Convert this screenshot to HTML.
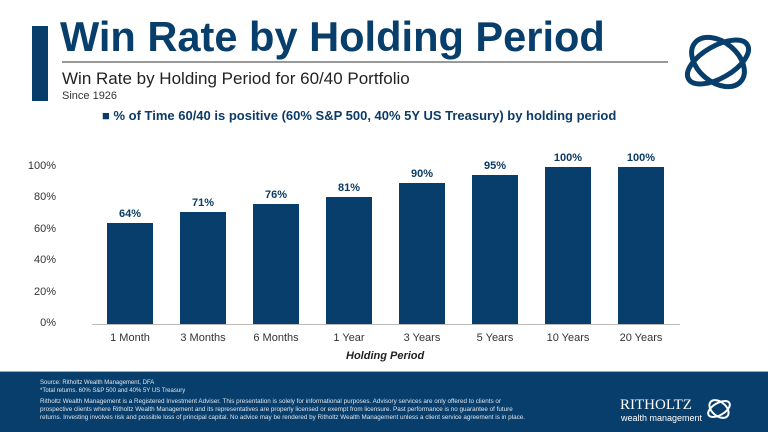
<!DOCTYPE html>
<html><head><style>
body{margin:0;width:768px;height:432px;background:#fff;font-family:"Liberation Sans",sans-serif;position:relative;overflow:hidden}
.a{position:absolute;white-space:nowrap}
.bar{position:absolute;background:#073e6b;width:46px}
.lab{position:absolute;width:60px;text-align:center;font-size:11px;font-weight:bold;color:#0b3b66}
.xl{position:absolute;width:80px;text-align:center;font-size:11px;color:#333;top:332px}
.yl{position:absolute;right:712px;font-size:11px;color:#333}
.grid{position:absolute;left:92px;width:588px;height:1px;background:#d9d9d9}
</style></head><body>
<div class="a" style="left:32px;top:26px;width:16px;height:75px;background:#073e6b"></div>
<div class="a" style="left:60px;top:13px;font-size:42px;font-weight:bold;color:#073e6b;transform:scaleX(0.99);transform-origin:left">Win Rate by Holding Period</div>
<div class="a" style="left:62px;top:61px;width:606px;height:2px;background:#999"></div>
<div class="a" style="left:62px;top:69px;font-size:17px;color:#222">Win Rate by Holding Period for 60/40 Portfolio</div>
<div class="a" style="left:62px;top:90px;font-size:11px;color:#333">Since 1926</div>
<div class="a" style="left:102px;top:108px;font-size:13px;font-weight:bold;color:#0b3b66">■ % of Time 60/40 is positive (60% S&amp;P 500, 40% 5Y US Treasury) by holding period</div>
<svg class="a" style="left:676px;top:28px" width="84" height="68" viewBox="0 0 84 68"><g fill="none" stroke="#073e6b" stroke-width="5"><ellipse cx="42" cy="34" rx="34" ry="16" transform="rotate(-30 42 34)"/><ellipse cx="42" cy="34" rx="30" ry="20" transform="rotate(40 42 34)"/></g></svg>

<div class="grid" style="top:324px;background:#bbb"></div>
<div class="yl" style="top:317px">0%</div>
<div class="yl" style="top:286px">20%</div>
<div class="yl" style="top:254px">40%</div>
<div class="yl" style="top:223px">60%</div>
<div class="yl" style="top:191px">80%</div>
<div class="yl" style="top:160px">100%</div>

<div class="bar" style="left:107px;top:223px;height:101px"></div><div class="lab" style="left:100px;top:208px">64%</div>
<div class="bar" style="left:180px;top:212px;height:112px"></div><div class="lab" style="left:173px;top:197px">71%</div>
<div class="bar" style="left:253px;top:204px;height:120px"></div><div class="lab" style="left:246px;top:189px">76%</div>
<div class="bar" style="left:326px;top:197px;height:127px"></div><div class="lab" style="left:319px;top:182px">81%</div>
<div class="bar" style="left:399px;top:183px;height:141px"></div><div class="lab" style="left:392px;top:168px">90%</div>
<div class="bar" style="left:472px;top:175px;height:149px"></div><div class="lab" style="left:465px;top:160px">95%</div>
<div class="bar" style="left:545px;top:167px;height:157px"></div><div class="lab" style="left:538px;top:152px">100%</div>
<div class="bar" style="left:618px;top:167px;height:157px"></div><div class="lab" style="left:611px;top:152px">100%</div>

<div class="xl" style="left:90px">1 Month</div>
<div class="xl" style="left:163px">3 Months</div>
<div class="xl" style="left:236px">6 Months</div>
<div class="xl" style="left:309px">1 Year</div>
<div class="xl" style="left:382px">3 Years</div>
<div class="xl" style="left:455px">5 Years</div>
<div class="xl" style="left:528px">10 Years</div>
<div class="xl" style="left:601px">20 Years</div>
<div class="a" style="left:346px;top:350px;font-size:11px;font-weight:bold;font-style:italic;color:#222">Holding Period</div>

<div class="a" style="left:0;top:372px;width:768px;height:60px;background:#073e6b"></div>
<div class="a" style="left:0;top:371px;width:768px;height:1px;background:#9ab"></div>
<div class="a" style="left:40px;top:380px;font-size:6px;color:#dfe6ee;line-height:7.5px">Source: Ritholtz Wealth Management, DFA<br>*Total returns. 60% S&amp;P 500 and 40% 5Y US Treasury</div>
<div class="a" style="left:40px;top:398px;font-size:6.3px;color:#dfe6ee;line-height:8px">Ritholtz Wealth Management is a Registered Investment Adviser. This presentation is solely for informational purposes. Advisory services are only offered to clients or<br>prospective clients where Ritholtz Wealth Management and its representatives are properly licensed or exempt from licensure. Past performance is no guarantee of future<br>returns. Investing involves risk and possible loss of principal capital. No advice may be rendered by Ritholtz Wealth Management unless a client service agreement is in place.</div>
<div class="a" style="left:620px;top:397px;font-size:15px;font-family:'Liberation Serif',serif;color:#fff">RITHOLTZ</div>
<div class="a" style="left:621px;top:413px;font-size:9px;color:#fff">wealth management</div>
<svg class="a" style="left:704px;top:394px" width="30" height="30"><g fill="none" stroke="#fff" stroke-width="2"><ellipse cx="15" cy="15" rx="12" ry="6" transform="rotate(-30 15 15)"/><ellipse cx="15" cy="15" rx="11" ry="7" transform="rotate(40 15 15)"/></g></svg>
</body></html>
